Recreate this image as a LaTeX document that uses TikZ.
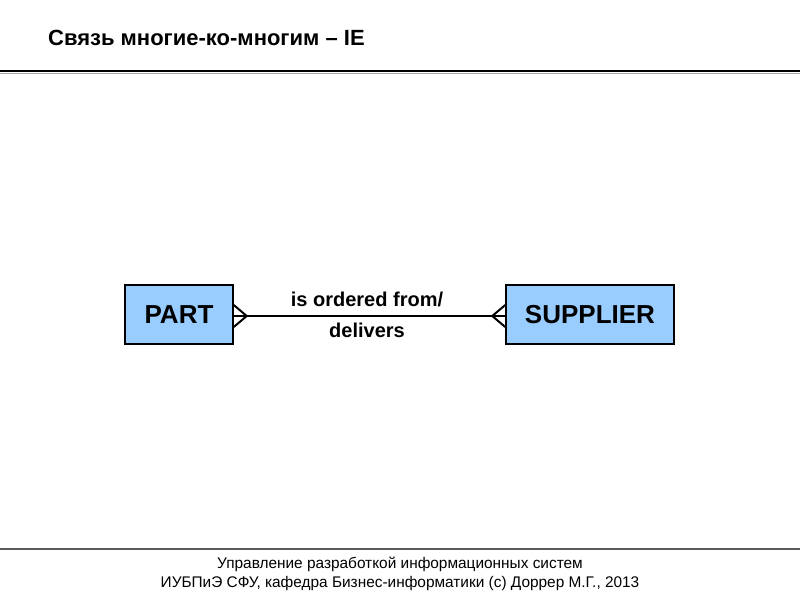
\documentclass[tikz,border=0pt]{standalone}
\usepackage{fontspec}
\setmainfont{Liberation Sans}
\usepackage{tikz}
\usetikzlibrary{positioning, calc}
\definecolor{entityblue}{RGB}{153,204,255}
\definecolor{rulegray}{RGB}{90,90,90}
\tikzset{
  entity/.style={draw=black, line width=1.5pt, fill=entityblue, minimum height=59pt,
    inner sep=0pt, font=\fontsize{26}{28}\selectfont\bfseries},
  verb/.style={anchor=base, inner sep=0pt, font=\fontsize{20}{22}\selectfont\bfseries},
  footnote/.style={anchor=base, inner sep=0pt, font=\fontsize{15.4}{17}\selectfont},
  rel/.style={line width=2pt, black},
  foot/.style={line width=2pt, black, line join=miter}
}

\begin{document}
\begin{tikzpicture}[x=1pt, y=-1pt]
  \useasboundingbox (0,0) rectangle (800,600);
  \fill[white] (0,0) rectangle (800,600);

  % Title and rules
  \node[anchor=base west, inner sep=0pt, font=\fontsize{22}{24}\selectfont\bfseries] (title) at (48,45) {Связь многие-ко-многим – IE};
  \draw[line width=1pt, gray!70] (0,73) -- (800,73);
  \draw[line width=2.2pt, black] (0,71) -- (800,71);
  \draw[line width=1.5pt, rulegray] (0,549) -- (800,549);

  % Entities
  \node[entity, minimum width=108pt] (part) at (179,314.5) {PART};
  \node[entity, minimum width=168pt] (supplier) at (590,314.5) {SUPPLIER};

  % Relationship
  \draw[rel] (part.east |- 0,316) coordinate (pe) -- (supplier.west |- 0,316) coordinate (sw);
  \node[verb] (verbtop) at (367,306) {is ordered from/};
  \node[verb] (verbbot) at (367,337) {delivers};

  % Crow's feet (many on both ends)
  \draw[foot] ($(pe)+(0,-11)$) -- ($(pe)+(13,0)$) -- ($(pe)+(0,11)$);
  \draw[foot] ($(sw)+(0,-11)$) -- ($(sw)+(-13,0)$) -- ($(sw)+(0,11)$);

  % Footer
  \node[footnote] (foot1) at (400,568) {Управление разработкой информационных систем};
  \node[footnote] (foot2) at (400,587) {ИУБПиЭ СФУ, кафедра Бизнес-информатики (c) Доррер М.Г., 2013};
\end{tikzpicture}
\end{document}
